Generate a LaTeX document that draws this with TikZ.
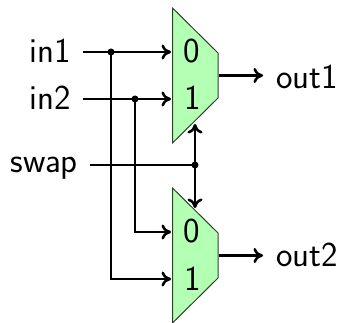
\documentclass[tikz,border=0pt]{standalone}
\usetikzlibrary{arrows.meta}
\tikzset{
  muxbody/.style={draw=muxline,fill=muxgreen,line width=1pt,line join=miter},
  wire/.style={line width=2.5pt,draw=black},
  sig/.style={wire,-{Computer Modern Rightarrow[length=9.5pt,width=15pt,line width=2.5pt]}},
  lbl/.style={inner sep=0pt,font=\fontsize{35}{36}\selectfont\sffamily},
  junction/.style={circle,fill=black,inner sep=0pt,minimum size=7pt},
}
\definecolor{muxgreen}{HTML}{B3FFB3}
\definecolor{muxline}{HTML}{304030}
\begin{document}
\begin{tikzpicture}[x=1pt,y=-1pt]
\useasboundingbox (0,0) rectangle (340,323);
% multiplexers
\draw[muxbody] (172.5,8) -- (218,53) -- (218,98) -- (172.5,143) -- cycle;
\draw[muxbody] (172.5,188) -- (218,233) -- (218,278) -- (172.5,323) -- cycle;
\node[lbl,anchor=base] (a0) at (192,63) {0};
\node[lbl,anchor=base] (a1) at (193,110) {1};
\node[lbl,anchor=base] (b0) at (192,243) {0};
\node[lbl,anchor=base] (b1) at (193,290) {1};
% labels
\node[lbl,anchor=base east] (in1) at (71,63) {in1};
\node[lbl,anchor=base east] (in2) at (71,110) {in2};
\node[lbl,anchor=base east] (swap) at (78,173) {swap};
\node[lbl,anchor=base west] (out1) at (276,89) {out1};
\node[lbl,anchor=base west] (out2) at (276,266) {out2};
% anchor points
\coordinate (s1) at (83,52);
\coordinate (s2) at (83,99);
\coordinate (s3) at (90,165);
\coordinate (p1) at (171,52);
\coordinate (p2) at (171,99);
\coordinate (q0) at (171,232);
\coordinate (q1) at (171,279);
\coordinate (r1) at (111,279);
\coordinate (r2) at (135,232);
\coordinate (selA) at (195,124);
\coordinate (selB) at (195,208);
\coordinate (oa) at (219,75.5);
\coordinate (ob) at (219,255.5);
\coordinate (ta) at (263,75.5);
\coordinate (tb) at (263,255.5);
\node[junction] (j1) at (111,52) {};
\node[junction] (j2) at (135,99) {};
\node[junction] (j3) at (195,165) {};
% wires
\draw[sig] (s1) -- (p1);
\draw[sig] (s2) -- (p2);
\draw[wire] (s3) -- (j3.center);
\draw[sig] (j3.center) -- (selA);
\draw[sig] (j3.center) -- (selB);
\draw[sig] (j1.center) -- (r1) -- (q1);
\draw[sig] (j2.center) -- (r2) -- (q0);
\draw[sig] (oa) -- (ta);
\draw[sig] (ob) -- (tb);
\end{tikzpicture}
\end{document}
